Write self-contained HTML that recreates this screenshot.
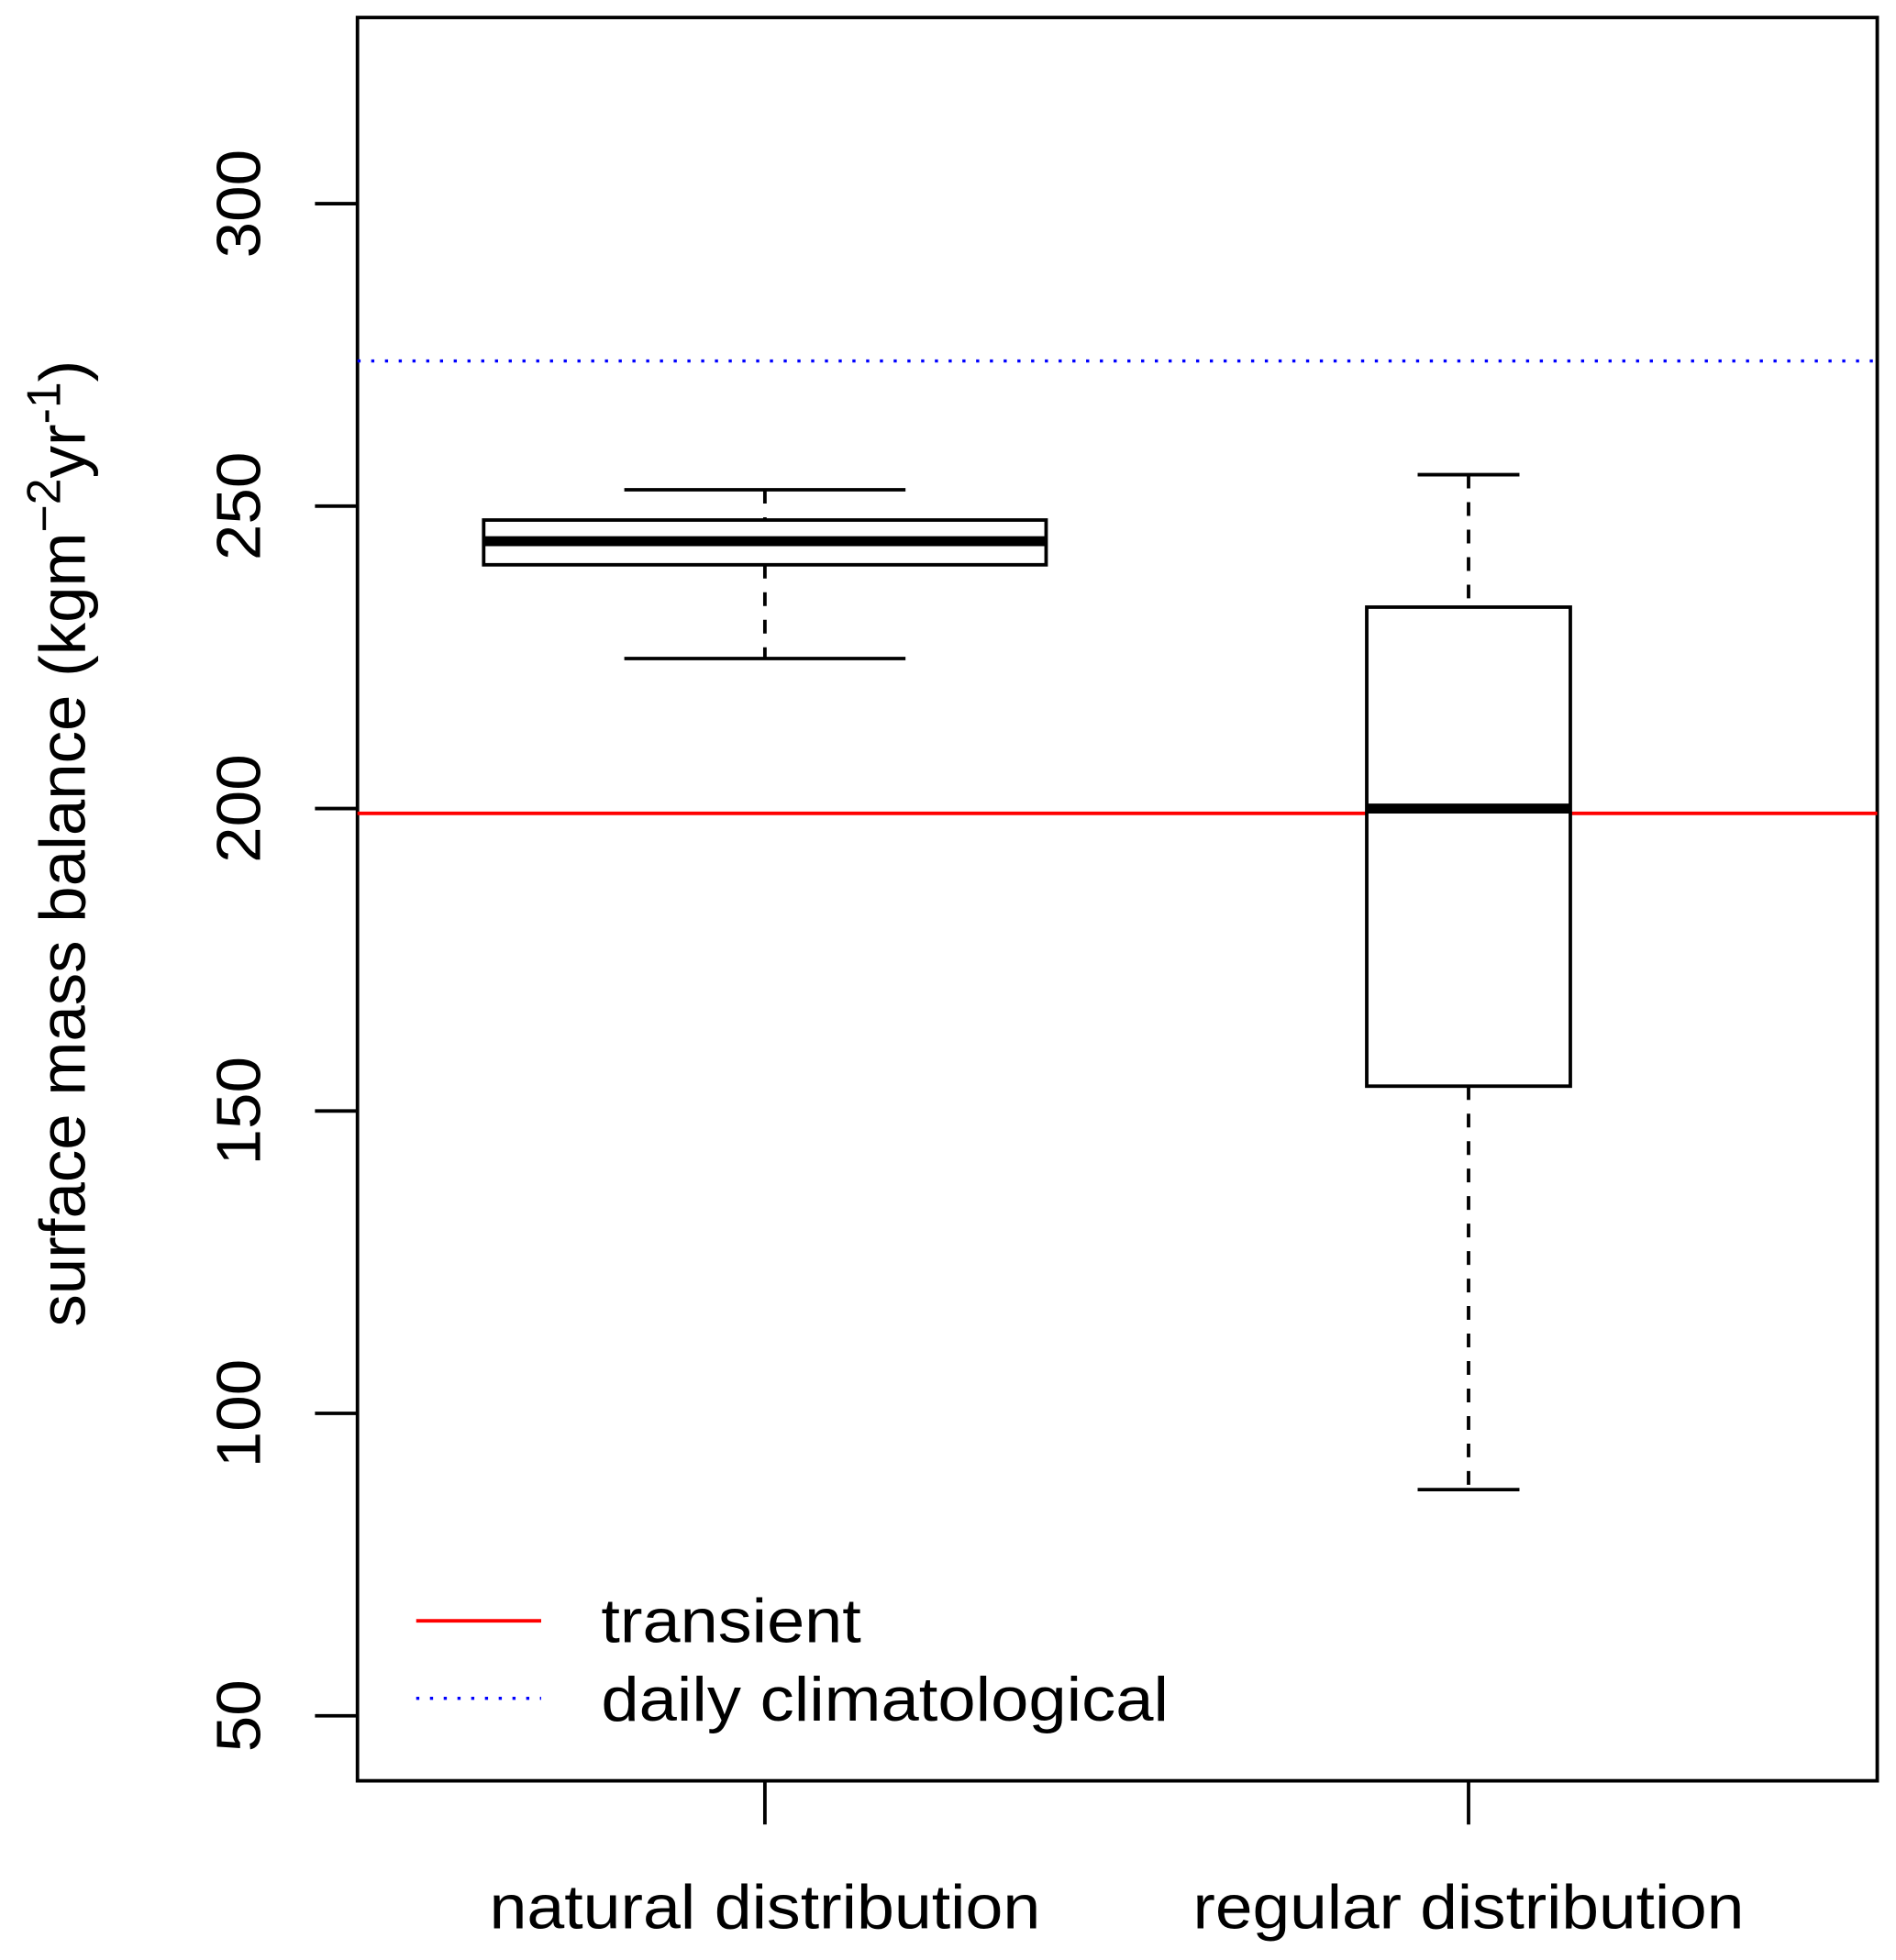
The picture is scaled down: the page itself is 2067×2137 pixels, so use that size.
<!DOCTYPE html>
<html><head><meta charset="utf-8"><style>html,body{margin:0;padding:0;background:#fff}svg{display:block}text{font-family:"Liberation Sans",Arial,sans-serif;fill:#000}</style></head>
<body>
<svg id="chart" width="2067" height="2137" viewBox="0 0 1517 1568.4" xmlns="http://www.w3.org/2000/svg">
<rect x="286" y="14" width="1216" height="1411" fill="none" stroke="#000" stroke-width="2.8"/>
<g id="g"></g>
</svg>
<script>
const categories=["natural distribution","regular distribution"];
const whiskerLow=[224.8,87.4];
const q1=[240.3,154.1];
const median=[244.2,200];
const q3=[247.7,233.3];
const whiskerHigh=[252.7,255.2];
const boxWidthRel=[1,0.362];
const yTicks=[50,100,150,200,250,300];
const transientValue=[199.2];
const dailyClimValue=[274];
const NS="http://www.w3.org/2000/svg";
const g=document.getElementById('g');
function y(v){return 1373-(v-50)*242/50;}
function x(i){return 612+i*563;}
function el(t,a,txt){const e=document.createElementNS(NS,t);for(const k in a)e.setAttribute(k,a[k]);if(txt!=null)e.textContent=txt;g.appendChild(e);return e;}
let e=el('line',{x1:286,x2:1502,y1:y(transientValue[0]),y2:y(transientValue[0]),stroke:'#f00','stroke-width':2.8});


e=el('line',{x1:286,x2:1502,y1:y(dailyClimValue[0]),y2:y(dailyClimValue[0]),stroke:'#00f','stroke-width':2.5,'stroke-dasharray':'2.5,8.5'});


categories.forEach((c,i)=>{
 const cx=x(i),hw=225*boxWidthRel[i];
 let w=el('line',{x1:cx,x2:cx,y1:y(whiskerHigh[i]),y2:y(q3[i]),stroke:'#000','stroke-width':2.8,'stroke-dasharray':'11,11'});
 
 
 w=el('line',{x1:cx,x2:cx,y1:y(q1[i]),y2:y(whiskerLow[i]),stroke:'#000','stroke-width':2.8,'stroke-dasharray':'11,11'});
 
 
 w=el('line',{x1:cx-hw/2,x2:cx+hw/2,y1:y(whiskerHigh[i]),y2:y(whiskerHigh[i]),stroke:'#000','stroke-width':2.8});
 
 
 w=el('line',{x1:cx-hw/2,x2:cx+hw/2,y1:y(whiskerLow[i]),y2:y(whiskerLow[i]),stroke:'#000','stroke-width':2.8});
 
 
 const b=el('rect',{x:cx-hw,y:y(q3[i]),width:2*hw,height:y(q1[i])-y(q3[i]),fill:'#fff',stroke:'#000','stroke-width':2.8});
 
 
 const m=el('line',{x1:cx-hw,x2:cx+hw,y1:y(median[i]),y2:y(median[i]),stroke:'#000','stroke-width':8});
 
 
 const t=el('line',{x1:cx,x2:cx,y1:1425,y2:1460,stroke:'#000','stroke-width':2.8});
 
 
 const l=el('text',{x:cx,y:1543,'font-size':50,'text-anchor':'middle',textLength:441,lengthAdjust:'spacingAndGlyphs'},c);
 
 
});
yTicks.forEach(v=>{
 const t=el('line',{x1:252,x2:286,y1:y(v),y2:y(v),stroke:'#000','stroke-width':2.8});
 
 
 const s=String(v);
 const l=el('text',{x:0,y:0,'font-size':50,'text-anchor':'middle',textLength:s.length*29,lengthAdjust:'spacingAndGlyphs',transform:`translate(208,${y(v)}) rotate(-90)`},s);
 
 
});
const yt=el('text',{x:0,y:0,'font-size':52,'text-anchor':'middle',transform:'translate(68,675) rotate(-90)'});
yt.innerHTML='surface mass balance (kgm<tspan dy="-20" font-size="38">−2</tspan><tspan dy="20">yr</tspan><tspan dy="-20" font-size="38">-1</tspan><tspan dy="20">)</tspan>';


e=el('line',{x1:333,x2:433,y1:1297,y2:1297,stroke:'#f00','stroke-width':2.8});


e=el('text',{x:481,y:1314,'font-size':50,textLength:208,lengthAdjust:'spacingAndGlyphs'},'transient');


e=el('line',{x1:333,x2:433,y1:1359,y2:1359,stroke:'#00f','stroke-width':2.5,'stroke-dasharray':'2.5,8.5'});


e=el('text',{x:481,y:1377,'font-size':50,textLength:454,lengthAdjust:'spacingAndGlyphs'},'daily climatological');


</script>
</body></html>
